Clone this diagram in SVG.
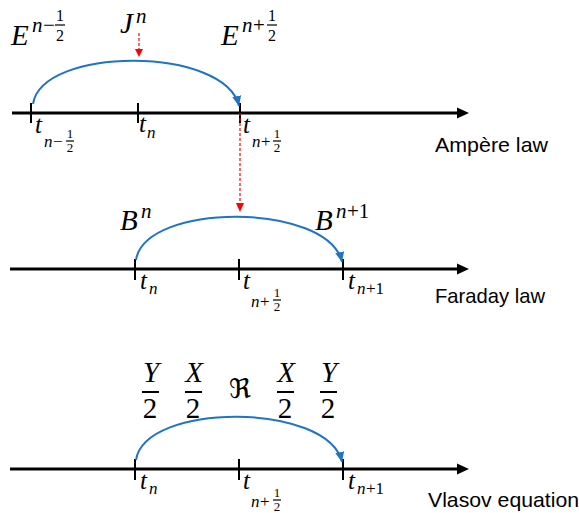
<svg xmlns="http://www.w3.org/2000/svg" width="579" height="513" viewBox="0 0 579 513">
<style>
.ax{stroke:#000;stroke-width:3;fill:none}
.tk{stroke:#000;stroke-width:2}
.ah{fill:#000}
.arc{stroke:#1F74C4;stroke-width:2;fill:none}
.red{stroke:#FF0000;stroke-width:1.2;stroke-dasharray:3,2;fill:none}
.redh{fill:#FF0000}
.m{font-family:"Liberation Serif","DejaVu Serif",serif;font-style:italic;fill:#000}
.u{font-family:"Liberation Serif","DejaVu Serif",serif;fill:#000}
.big{font-size:29px}
.sup{font-size:21px}
.fr{font-size:16px}
.t{font-size:25px}
.s{font-size:17px}
.sf{font-size:13px}
.lbl{font-family:"Liberation Sans",Arial,sans-serif;font-size:21px;fill:#000}
.bar{stroke:#000;stroke-width:1.2}
.bbar{stroke:#000;stroke-width:2}
</style>
<defs>
<marker id="bh" markerUnits="userSpaceOnUse" markerWidth="10" markerHeight="9" refX="10" refY="4.5" orient="auto">
<path d="M0,0 L10,4.5 L0,9 z" fill="#1F74C4"/>
</marker>
</defs>

<g id="axis-ampere">
<line class="ax" x1="12" y1="113" x2="460" y2="113"/>
<polygon class="ah" points="457,107.5 469,113 457,118.5"/>
<line class="tk" x1="31" y1="103" x2="31" y2="123"/>
<line class="tk" x1="138" y1="103" x2="138" y2="123"/>
<line class="tk" x1="240" y1="103" x2="240" y2="123"/>
<text class="m t" x="35" y="133">t</text>
<text class="m s" x="44" y="147">n</text>
<text class="u s" x="53" y="147">−</text>
<text class="u sf" x="70" y="138" text-anchor="middle">1</text>
<line class="bar" x1="66" y1="141" x2="74" y2="141"/>
<text class="u sf" x="70" y="152" text-anchor="middle">2</text>
<text class="m t" x="139" y="132">t</text>
<text class="m s" x="147" y="138">n</text>
<text class="m t" x="243" y="133">t</text>
<text class="m s" x="252" y="147">n</text>
<text class="u s" x="261" y="147">+</text>
<text class="u sf" x="277" y="138" text-anchor="middle">1</text>
<line class="bar" x1="273" y1="141" x2="281" y2="141"/>
<text class="u sf" x="277" y="152" text-anchor="middle">2</text>
<text class="lbl" x="435" y="152" textLength="113" lengthAdjust="spacingAndGlyphs">Ampère law</text>
</g>

<g id="label-E-minus">
<text class="m big" x="11" y="45">E</text>
<text class="m sup" x="32" y="32">n</text>
<text class="u sup" x="43" y="32">−</text>
<text class="u fr" x="60" y="21" text-anchor="middle">1</text>
<line class="bar" x1="55" y1="25" x2="65" y2="25"/>
<text class="u fr" x="60" y="41" text-anchor="middle">2</text>
</g>
<g id="label-J">
<text class="m big" x="120" y="33">J</text>
<text class="m sup" x="136" y="23">n</text>
</g>
<g id="label-E-plus">
<text class="m big" x="221" y="45">E</text>
<text class="m sup" x="242" y="32">n</text>
<text class="u sup" x="253" y="32">+</text>
<text class="u fr" x="272" y="21" text-anchor="middle">1</text>
<line class="bar" x1="267" y1="25" x2="277" y2="25"/>
<text class="u fr" x="272" y="41" text-anchor="middle">2</text>
</g>

<g id="axis-faraday">
<line class="ax" x1="10" y1="269" x2="460" y2="269"/>
<polygon class="ah" points="457,263.5 469,269 457,274.5"/>
<line class="tk" x1="135" y1="259" x2="135" y2="280"/>
<line class="tk" x1="239" y1="259" x2="239" y2="280"/>
<line class="tk" x1="343" y1="259" x2="343" y2="280"/>
<text class="m t" x="140" y="289">t</text>
<text class="m s" x="149" y="294">n</text>
<text class="m t" x="243" y="289">t</text>
<text class="m s" x="251" y="307">n</text>
<text class="u s" x="260" y="307">+</text>
<text class="u sf" x="277" y="297" text-anchor="middle">1</text>
<line class="bar" x1="273" y1="300" x2="281" y2="300"/>
<text class="u sf" x="277" y="311" text-anchor="middle">2</text>
<text class="m t" x="348" y="289">t</text>
<text class="m s" x="357" y="294">n</text>
<text class="u s" x="366" y="294">+1</text>
<text class="lbl" x="435" y="303" textLength="110" lengthAdjust="spacingAndGlyphs">Faraday law</text>
</g>

<g id="label-B">
<text class="m big" x="120" y="230">B</text>
<text class="m sup" x="141" y="218">n</text>
</g>
<g id="label-B-plus">
<text class="m big" x="315" y="230">B</text>
<text class="m sup" x="336" y="218">n</text>
<text class="u sup" x="347" y="218">+1</text>
</g>

<g id="axis-vlasov">
<line class="ax" x1="10" y1="469" x2="460" y2="469"/>
<polygon class="ah" points="457,463.5 469,469 457,474.5"/>
<line class="tk" x1="135" y1="459" x2="135" y2="480"/>
<line class="tk" x1="239" y1="459" x2="239" y2="480"/>
<line class="tk" x1="343" y1="459" x2="343" y2="480"/>
<text class="m t" x="140" y="489">t</text>
<text class="m s" x="149" y="494">n</text>
<text class="m t" x="243" y="489">t</text>
<text class="m s" x="251" y="507">n</text>
<text class="u s" x="260" y="507">+</text>
<text class="u sf" x="277" y="497" text-anchor="middle">1</text>
<line class="bar" x1="273" y1="500" x2="281" y2="500"/>
<text class="u sf" x="277" y="511" text-anchor="middle">2</text>
<text class="m t" x="348" y="489">t</text>
<text class="m s" x="357" y="494">n</text>
<text class="u s" x="366" y="494">+1</text>
<text class="lbl" x="428" y="507" textLength="151" lengthAdjust="spacingAndGlyphs">Vlasov equation</text>
</g>

<g id="splitting-labels">
<text class="m big" x="151" y="382" text-anchor="middle">Y</text>
<line class="bbar" x1="142" y1="392" x2="159" y2="392"/>
<text class="u big" x="150" y="418" text-anchor="middle">2</text>
<text class="m big" x="194" y="382" text-anchor="middle">X</text>
<line class="bbar" x1="185" y1="392" x2="202" y2="392"/>
<text class="u big" x="193" y="418" text-anchor="middle">2</text>
<text x="240" y="398" text-anchor="middle" style="font-family:'DejaVu Serif','DejaVu Sans',serif;font-size:27px">ℜ</text>
<text class="m big" x="286" y="382" text-anchor="middle">X</text>
<line class="bbar" x1="277" y1="392" x2="294" y2="392"/>
<text class="u big" x="285" y="418" text-anchor="middle">2</text>
<text class="m big" x="329" y="382" text-anchor="middle">Y</text>
<line class="bbar" x1="320" y1="392" x2="337" y2="392"/>
<text class="u big" x="328" y="418" text-anchor="middle">2</text>
</g>

<g id="connectors">
<path class="arc" d="M33,104 C42,46 225,46 239,106" marker-end="url(#bh)"/>
<path class="arc" d="M136,260 C145,202 328,202 342,262" marker-end="url(#bh)"/>
<path class="arc" d="M136,460 C145,402 328,402 342,462" marker-end="url(#bh)"/>
<line class="red" x1="139" y1="33" x2="139" y2="50"/>
<polygon class="redh" points="135,49 143,49 139,57"/>
<line class="red" x1="240" y1="113" x2="240" y2="204"/>
<polygon class="redh" points="236,203 244,203 240,212"/>
</g>
</svg>
